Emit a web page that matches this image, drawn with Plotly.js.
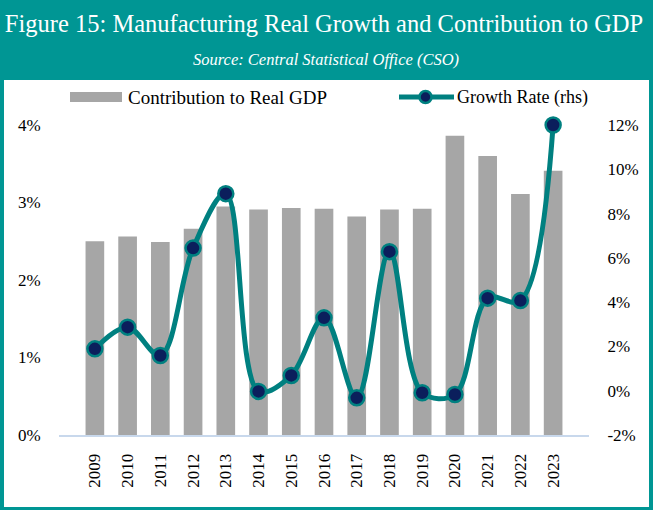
<!DOCTYPE html>
<html>
<head>
<meta charset="utf-8">
<script src="https://cdn.plot.ly/plotly-3.0.1.min.js"></script>
<style>html,body{margin:0;padding:0;background:#009694;}#chart{width:653px;height:510px;}</style>
</head>
<body>
<div id="chart"></div>
<script>
const years = ['2009','2010','2011','2012','2013','2014','2015','2016','2017','2018','2019','2020','2021','2022','2023'];
const contribution = [2.50,2.56,2.49,2.66,2.95,2.91,2.93,2.92,2.82,2.91,2.92,3.86,3.60,3.11,3.41];
const growthRate = [1.89,2.87,1.59,6.44,8.90,-0.03,0.69,3.29,-0.32,6.28,-0.09,-0.17,4.18,4.07,12.0];
const seriesNames = ['Contribution to Real GDP','Growth Rate (rhs)'];
const leftTicks = [0,1,2,3,4];
const rightTicks = [-2,0,2,4,6,8,10,12];

const TEAL = '#008080';
const NAVY = '#0b1f5c';
const GREY = '#a6a6a6';
const FONT = 'Liberation Serif, Times New Roman, serif';

// pixel -> paper helpers (plot area: x 59..589, y 125..435)
const L = 59, R = 64, T = 125, B = 75, W = 653, H = 510;
const pw = W - L - R, ph = H - T - B;
const px = x => (x - L) / pw;
const py = y => (H - B - y) / ph;

const traces = [
  {
    type: 'bar', x: years, y: contribution, name: seriesNames[0],
    marker: {color: GREY}, yaxis: 'y', showlegend: false,
    hovertemplate: '%{x}: %{y:.2f}%<extra></extra>'
  },
  {
    type: 'scatter', mode: 'lines+markers', x: years, y: growthRate, name: seriesNames[1],
    yaxis: 'y2', showlegend: false, cliponaxis: false,
    line: {color: TEAL, width: 5, shape: 'spline', smoothing: 1},
    marker: {color: NAVY, size: 15, line: {color: TEAL, width: 2.5}},
    hovertemplate: '%{x}: %{y:.1f}%<extra></extra>'
  }
];

const layout = {
  width: W, height: H,
  margin: {l: L, r: R, t: T, b: B, pad: 0},
  paper_bgcolor: '#009694',
  plot_bgcolor: 'rgba(0,0,0,0)',
  font: {family: FONT, color: '#000', size: 17},
  bargap: 0.43,
  title: {
    text: 'Figure 15: Manufacturing Real Growth and Contribution to GDP',
    font: {family: FONT, size: 24.5, color: '#ffffff'},
    x: 0.5, xanchor: 'center', y: 1 - 23 / H, yanchor: 'middle', xref: 'paper'
  },
  xaxis: {
    type: 'category', tickangle: -90,
    showline: true, linecolor: '#c8d8ec', linewidth: 2,
    showgrid: false, zeroline: false,
    ticks: 'outside', ticklen: 10, tickcolor: 'rgba(0,0,0,0)',
    tickfont: {family: FONT, size: 17, color: '#000'}
  },
  yaxis: {
    range: [0, 4], tickvals: leftTicks, ticktext: leftTicks.map(v => v + '%'),
    showgrid: false, zeroline: false, showline: false,
    ticks: 'outside', ticklen: 14, tickcolor: 'rgba(0,0,0,0)',
    tickfont: {family: FONT, size: 17, color: '#000'}
  },
  yaxis2: {
    range: [-2, 12], tickvals: rightTicks, ticktext: rightTicks.map(v => v + '%'),
    overlaying: 'y', side: 'right',
    showgrid: false, zeroline: false, showline: false,
    ticks: 'outside', ticklen: 14, tickcolor: 'rgba(0,0,0,0)',
    tickfont: {family: FONT, size: 17, color: '#000'}
  },
  shapes: [
    // white chart panel
    {type: 'rect', xref: 'paper', yref: 'paper', layer: 'below',
     x0: px(4), x1: px(649), y0: py(507), y1: py(80),
     fillcolor: '#ffffff', line: {width: 0}},
    // legend symbol: bar
    {type: 'rect', xref: 'paper', yref: 'paper',
     x0: px(70), x1: px(122), y0: py(102), y1: py(92),
     fillcolor: GREY, line: {width: 0}},
    // legend symbol: line
    {type: 'line', xref: 'paper', yref: 'paper',
     x0: px(399), x1: px(454), y0: py(97), y1: py(97),
     line: {color: TEAL, width: 5}},
    // legend symbol: marker
    {type: 'circle', xref: 'paper', yref: 'paper',
     x0: px(419.5), x1: px(431.5), y0: py(103), y1: py(91),
     fillcolor: NAVY, line: {color: TEAL, width: 2.5}}
  ],
  annotations: [
    {text: '<i>Source: Central Statistical Office (CSO)</i>', xref: 'paper', yref: 'paper',
     x: px(326), y: py(60), xanchor: 'center', yanchor: 'middle', showarrow: false,
     font: {family: FONT, size: 16.5, color: '#ffffff'}},
    {text: seriesNames[0], xref: 'paper', yref: 'paper',
     x: px(126), y: py(97), xanchor: 'left', yanchor: 'middle', showarrow: false,
     font: {family: FONT, size: 19, color: '#000'}},
    {text: seriesNames[1], xref: 'paper', yref: 'paper',
     x: px(455), y: py(97), xanchor: 'left', yanchor: 'middle', showarrow: false,
     font: {family: FONT, size: 18, color: '#000'}}
  ]
};

Plotly.newPlot('chart', traces, layout, {displayModeBar: false, staticPlot: true});
</script>
</body>
</html>
